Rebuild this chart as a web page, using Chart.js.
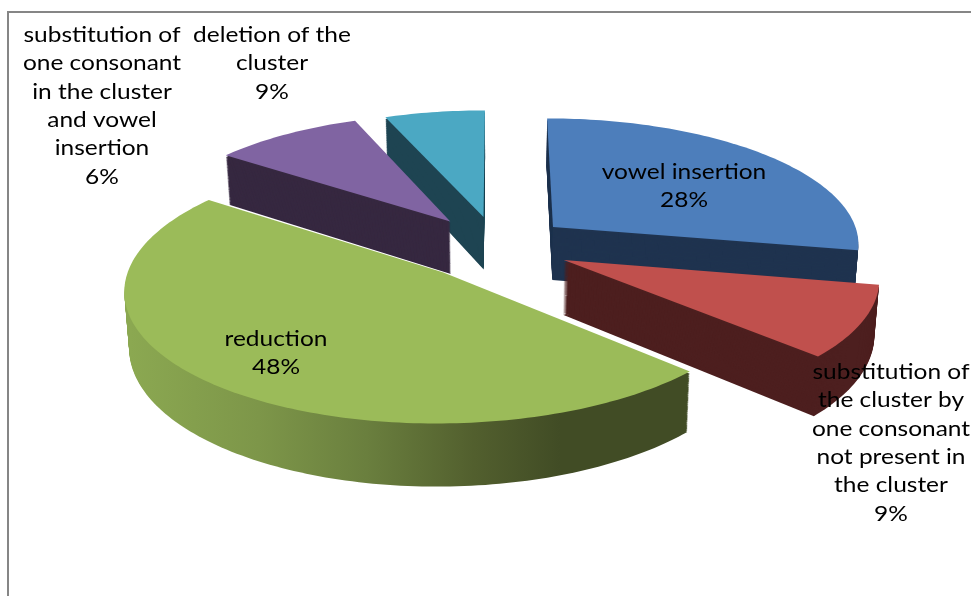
<!DOCTYPE html>
<html>
<head>
<meta charset="utf-8">
<style>
  html, body { margin: 0; background: #fff; }
  #wrap { position: relative; width: 971px; height: 596px; overflow: hidden; }
</style>
<script src="https://cdn.jsdelivr.net/npm/chart.js@4/dist/chart.umd.min.js"></script>
</head>
<body>
<div id="wrap"><canvas id="pie"></canvas></div>
<script>
const categories = [
  ['vowel insertion'],
  ['substitution of', 'the cluster by', 'one consonant', 'not present in', 'the cluster'],
  ['reduction'],
  ['deletion of the', 'cluster'],
  ['substitution of', 'one consonant', 'in the cluster', 'and vowel', 'insertion']
];
const shares = [28, 9, 48, 9, 6];

const topColors = ['#4d7ebb', '#c0504d', '#9bbb59', '#8064a2', '#4ba8c3'];
const wallColors = ['#1f334f', '#4d1f1f', null, '#362840', '#1e4452'];
const explode = [74, 74, 82, 78, 74];
const labelBoxes = [[684, 172], [891, 372], [276, 339], [272, 35], [102, 35]];
const drawOrder = [4, 3, 0, 1, 2];

/* ===== 3D VIEW ===== */
const RADIUS = 308, TILT = 0.409, PERSP = 0.12, DEPTH = 54, FONT_STRETCH = 1.165;

function project(arc, dx, dy, z) {
  const w = 1 - PERSP * dy / RADIUS;
  const shrink = 1 - 0.013 * z;
  return [arc.x + dx / w * shrink, arc.y + (TILT * dy + DEPTH * z) / w];
}

function sliceOutline(arc) {
  const { startAngle, endAngle, outerRadius } = arc.getProps(['startAngle', 'endAngle', 'outerRadius'], true);
  const mid = (startAngle + endAngle) / 2;
  const ox = Math.cos(mid) * arc.options.offset, oy = Math.sin(mid) * arc.options.offset;
  const pts = [[ox, oy]];
  const steps = Math.ceil((endAngle - startAngle) / 0.02);
  for (let i = 0; i <= steps; i++) {
    const a = startAngle + (endAngle - startAngle) * i / steps;
    pts.push([ox + outerRadius * Math.cos(a), oy + outerRadius * Math.sin(a)]);
  }
  return pts;
}

function tracePath(ctx, arc, pts, z) {
  ctx.beginPath();
  pts.forEach((p, k) => {
    const s = project(arc, p[0], p[1], z);
    k === 0 ? ctx.moveTo(s[0], s[1]) : ctx.lineTo(s[0], s[1]);
  });
  ctx.closePath();
}

function greenWall(ctx) {
  const g = ctx.createLinearGradient(130, 0, 560, 0);
  g.addColorStop(0, '#8ba851');
  g.addColorStop(0.3, '#7d9649');
  g.addColorStop(0.55, '#6a7f3e');
  g.addColorStop(0.8, '#525f2e');
  g.addColorStop(1, '#414c25');
  return g;
}

const pie3dPlugin = {
  id: 'pie3d',
  beforeDatasetsDraw(chart) {
    const ctx = chart.ctx;
    const arcs = chart.getDatasetMeta(0).data;
    ctx.save();
    drawOrder.forEach(i => {
      const arc = arcs[i];
      const pts = sliceOutline(arc);
      // stack the outline downwards so the wall has no seams
      ctx.fillStyle = wallColors[i] || greenWall(ctx);
      for (let n = DEPTH; n >= 2; n--) {
        tracePath(ctx, arc, pts, n / DEPTH);
        ctx.fill();
      }
      tracePath(ctx, arc, pts, 0);
      ctx.fillStyle = topColors[i];
      ctx.fill();
    });
    ctx.restore();
    return false;
  },
  afterDraw(chart) {
    const ctx = chart.ctx;
    ctx.save();
    ctx.fillStyle = '#000';
    ctx.font = '21px Lato';
    ctx.textAlign = 'center';
    ctx.textBaseline = 'middle';
    categories.forEach((lines, i) => {
      const [x, y] = labelBoxes[i];
      [...lines, shares[i] + '%'].forEach((t, k) => {
        ctx.save();
        ctx.translate(x, y + k * 28.4);
        ctx.scale(FONT_STRETCH, 1);
        ctx.fillText(t, 0, 0);
        ctx.restore();
      });
    });
    ctx.restore();
  }
};

const framePlugin = {
  id: 'frame',
  beforeDraw(chart) {
    const ctx = chart.ctx;
    ctx.save();
    ctx.fillStyle = '#868686';
    ctx.fillRect(7, 11, 964, 2);
    ctx.fillRect(7, 11, 2, 585);
    ctx.restore();
  }
};

new Chart(document.getElementById('pie'), {
  type: 'pie',
  data: {
    labels: categories.map(c => c.join(' ')),
    datasets: [{ data: shares, backgroundColor: topColors, borderWidth: 0, offset: explode }]
  },
  options: {
    responsive: true,
    maintainAspectRatio: false,
    animation: false,
    radius: RADIUS,
    layout: { padding: { left: 23, bottom: 104 } },
    plugins: { legend: { display: false }, tooltip: { enabled: false } }
  },
  plugins: [framePlugin, pie3dPlugin]
});
</script>
</body>
</html>
